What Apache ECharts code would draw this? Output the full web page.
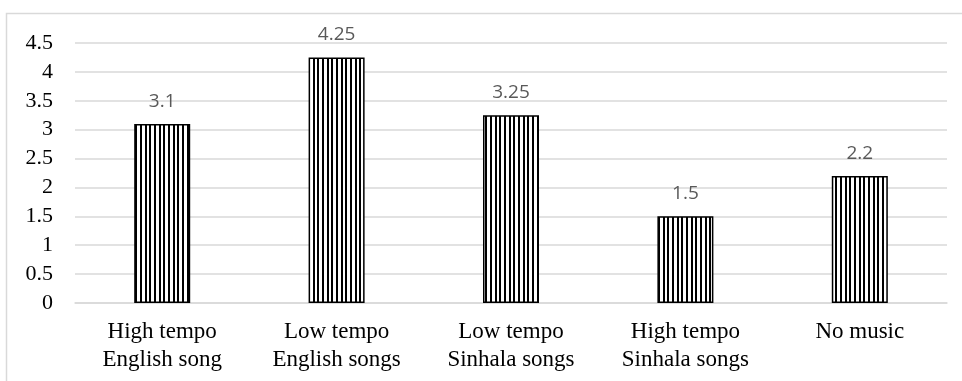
<!DOCTYPE html>
<html>
<head>
<meta charset="utf-8">
<script src="https://cdn.jsdelivr.net/npm/echarts@6/dist/echarts.min.js"></script>
<style>
  html, body { margin: 0; padding: 0; background: #fff; }
  #chart { width: 962px; height: 381px; }
</style>
</head>
<body>
<div id="chart"></div>
<script>
// Categories (two-line labels) and mean values per listening condition
const categories = [
  'High tempo\nEnglish song',
  'Low tempo\nEnglish songs',
  'Low tempo\nSinhala songs',
  'High tempo\nSinhala songs',
  'No music'
];
const values = [3.1, 4.25, 3.25, 1.5, 2.2];
const yTicks = [0, 0.5, 1, 1.5, 2, 2.5, 3, 3.5, 4, 4.5];

// Vertical-stripe fill for the bars (three stripes per 14px tile)
function stripePattern() {
  const c = document.createElement('canvas');
  c.width = 14; c.height = 10;
  const ctx = c.getContext('2d');
  ctx.fillStyle = '#ffffff';
  ctx.fillRect(0, 0, 14, 10);
  ctx.fillStyle = '#000000';
  [0, 5, 9].forEach(function (x) { ctx.fillRect(x, 0, 2, 10); });
  return c;
}

const serif = '"Liberation Serif", "Times New Roman", serif';

const chart = echarts.init(document.getElementById('chart'), null, { renderer: 'canvas' });
chart.setOption({
  animation: false,
  backgroundColor: '#ffffff',
  graphic: [{
    type: 'rect',
    shape: { x: 6.5, y: 13.5, width: 1000, height: 400 },
    style: { fill: 'none', stroke: '#d9d9d9', lineWidth: 1.5 },
    silent: true,
    z: -1
  }],
  grid: { left: 75, right: 15, top: 43, bottom: 78 },
  xAxis: {
    type: 'category',
    data: categories,
    axisLine: { show: true, lineStyle: { color: '#d9d9d9', width: 1.5 } },
    axisTick: { show: false },
    axisLabel: {
      fontFamily: serif,
      fontSize: 23,
      lineHeight: 28,
      color: '#000000',
      margin: 15
    }
  },
  yAxis: {
    type: 'value',
    min: yTicks[0],
    max: yTicks[yTicks.length - 1],
    interval: 0.5,
    axisLine: { show: false },
    axisTick: { show: false },
    splitLine: { lineStyle: { color: '#d9d9d9', width: 1.5 } },
    axisLabel: {
      fontFamily: serif,
      fontSize: 22,
      color: '#000000',
      margin: 22
    }
  },
  series: [{
    type: 'bar',
    data: values,
    barWidth: 56,
    itemStyle: {
      color: { image: stripePattern(), repeat: 'repeat' },
      borderColor: '#000000',
      borderWidth: 1.5
    },
    label: {
      show: true,
      position: 'top',
      distance: 13,
      fontFamily: '"Open Sans", "Liberation Sans", sans-serif',
      fontSize: 19,
      color: '#595959'
    }
  }]
});
</script>
</body>
</html>
